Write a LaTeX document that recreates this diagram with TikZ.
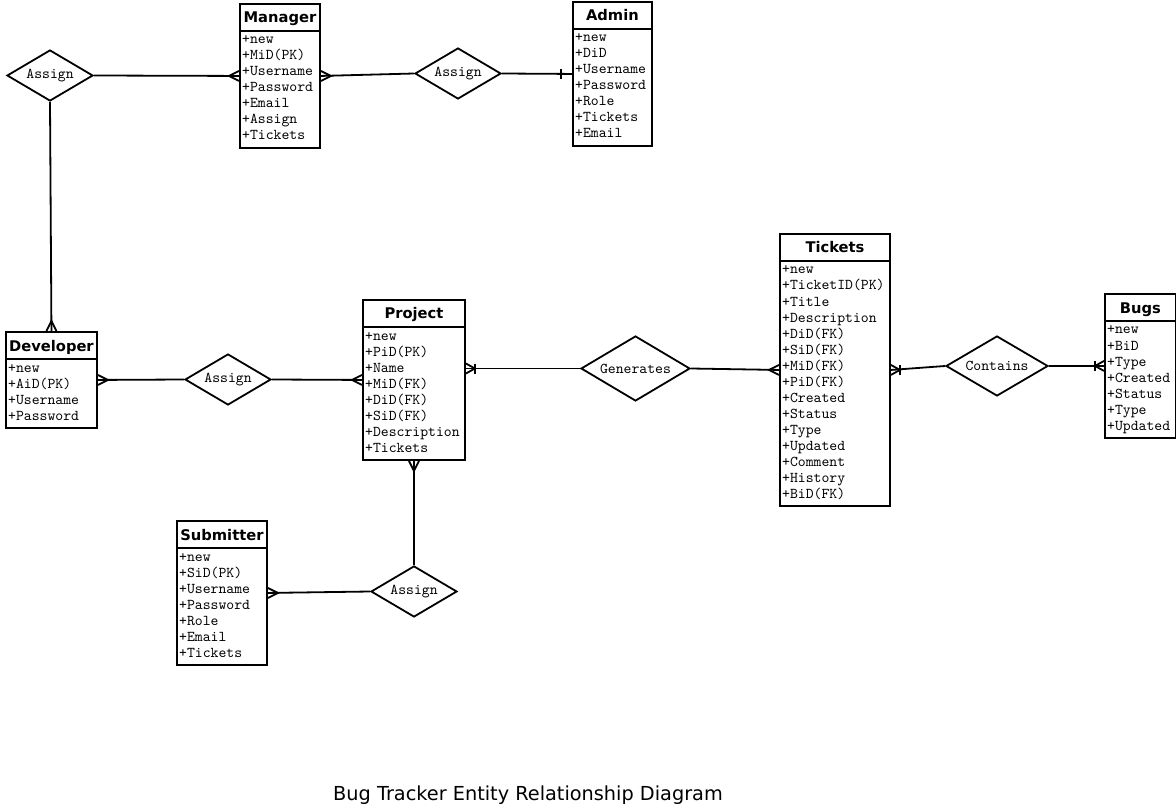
\documentclass[tikz,border=0pt]{standalone}
\usepackage{fontspec}
\usetikzlibrary{shapes.geometric}
\newfontfamily\monof{lmmono10-regular.otf}
\newfontfamily\sansf{DejaVu Sans}
\tikzset{
  ebox/.style={draw, line width=1.9pt, inner sep=0pt, rectangle},
  ebord/.style={line width=1.9pt},
  etitle/.style={anchor=base, inner sep=0pt, font=\sansf\bfseries\fontsize{14.7}{16}\selectfont},
  erow/.style={anchor=base west, inner sep=0pt, font=\monof\fontsize{15}{16}\selectfont},
  rel/.style={draw, shape=diamond, line width=1.8pt, inner sep=0pt, shape aspect=1.7, font=\monof\fontsize{15}{16}\selectfont},
  conn/.style={line width=1.8pt},
  pics/many/.style={code={\draw[conn] (0,-5) -- (10,0) -- (0,5);}},
  pics/onemany/.style={code={\draw[conn] (0,-5) -- (9,0) -- (0,5); \draw[conn] (9,-5) -- (9,5);}},
  pics/one/.style={code={\draw[conn] (11,-5) -- (11,5);}},
}
\newcommand\erentity[7]{%
  \pgfmathsetmacro\eh{32+16*#5}
  \node[ebox, minimum width=#4, minimum height=\eh, anchor=north west] (#1) at (#2,#3) {};
  \draw[ebord] ([yshift=-28pt]#1.north west) -- ([yshift=-28pt]#1.north east);
  \node[etitle] (#1-t) at ([yshift=-20pt]#1.north) {#6};
  \foreach \r [count=\i] in {#7} {
    \pgfmathsetmacro\yy{41+16*(\i-1)}
    \node[erow] (#1-r\i) at ([xshift=3pt, yshift=-\yy pt]#1.north west) {\r};
  }
}
\begin{document}
\begin{tikzpicture}[x=1pt, y=-1pt]
\useasboundingbox[fill=white] (0,0) rectangle (1176,805);

\erentity{mgr}{239}{3}{80}{7}{Manager}{+new,+MiD(PK),+Username,+Password,+Email,+Assign,+Tickets}
\erentity{adm}{572}{1}{79}{7}{Admin}{+new,+DiD,+Username,+Password,+Role,+Tickets,+Email}
\erentity{dev}{5}{331}{91}{4}{Developer}{+new,+AiD(PK),+Username,+Password}
\erentity{prj}{362}{299}{102}{8}{Project}{+new,+PiD(PK),+Name,+MiD(FK),+DiD(FK),+SiD(FK),+Description,+Tickets}
\erentity{tik}{779}{233}{110}{15}{Tickets}{+new,+TicketID(PK),+Title,+Description,+DiD(FK),+SiD(FK),+MiD(FK),+PiD(FK),+Created,+Status,+Type,+Updated,+Comment,+History,+BiD(FK)}
\erentity{bug}{1104}{293}{71}{7}{Bugs}{+new,+BiD,+Type,+Created,+Status,+Type,+Updated}
\erentity{sub}{176}{520}{90}{7}{Submitter}{+new,+SiD(PK),+Username,+Password,+Role,+Email,+Tickets}

\node[rel, minimum width=86, minimum height=51] (a1) at (50,75.5) {Assign};
\node[rel, minimum width=86, minimum height=51] (a2) at (458,73.5) {Assign};
\node[rel, minimum width=86, minimum height=51] (a3) at (228,379.5) {Assign};
\node[rel, minimum width=109, minimum height=65] (gen) at (635.5,368.5) {Generates};
\node[rel, minimum width=102, minimum height=60] (con) at (997,366) {Contains};
\node[rel, minimum width=86, minimum height=51] (a4) at (414,591.5) {Assign};

\draw[conn] (a1.east) -- (mgr.west);
\pic[rotate=180] at (mgr.west) {many};
\draw[conn] (mgr.east) -- (a2.west);
\pic at (mgr.east) {many};
\draw[conn] (a2.east) -- (adm.west);
\pic[rotate=180] at (adm.west) {one};
\draw[conn] (a1.south) -- (dev.north);
\pic[rotate=90] at (dev.north) {many};
\draw[conn] (dev.east) -- (a3.west);
\pic at (dev.east) {many};
\draw[conn] (a3.east) -- (prj.west);
\pic[rotate=180] at (prj.west) {many};
\coordinate (pe) at (prj.east |- gen.west);
\draw[conn] (pe) -- (gen.west);
\pic at (pe) {onemany};
\draw[conn] (gen.east) -- (tik.west);
\pic[rotate=180] at (tik.west) {many};
\draw[conn] (tik.east) -- (con.west);
\pic at (tik.east) {onemany};
\draw[conn] (con.east) -- (bug.west);
\pic[rotate=180] at (bug.west) {onemany};
\draw[conn] (prj.south) -- (a4.north);
\pic[rotate=-90] at (prj.south) {many};
\draw[conn] (sub.east) -- (a4.west);
\pic at (sub.east) {many};

\node[anchor=base, inner sep=0pt, font=\sansf\fontsize{19.3}{22}\selectfont] (cap) at (528,800) {Bug Tracker Entity Relationship Diagram};
\end{tikzpicture}
\end{document}
